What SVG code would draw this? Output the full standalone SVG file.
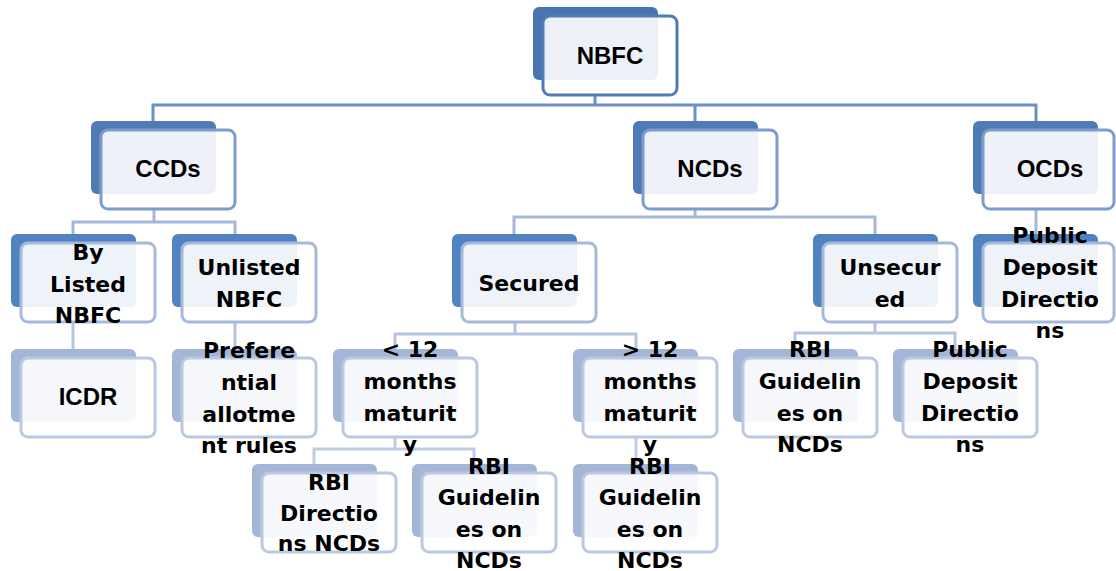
<svg xmlns="http://www.w3.org/2000/svg" width="1116" height="571" viewBox="0 0 1116 571">
<style>
.bk{stroke:none}
.fr{fill:#ffffff;fill-opacity:0.9;stroke-width:3}
.b0{fill:#4a74ae}.f0{stroke:#4f7cb6}
.b1{fill:#4f7bb5}.f1{stroke:#7c9ccc}
.b2{fill:#5283c1}.f2{stroke:#a5b9da}
.b3{fill:#a3b6d7}.f3{stroke:#bac8e2}
.t1{font-family:"Liberation Sans",Arial,sans-serif;font-weight:bold;font-size:24px;fill:#000;text-anchor:middle}
.t2{font-family:"DejaVu Sans",sans-serif;font-weight:bold;font-size:22px;fill:#000;text-anchor:middle}
.c{fill:none;stroke-width:3}
.c1{stroke:#6b8fc7}.c2{stroke:#a3b7da}.c3{stroke:#b5c4e0}.c4{stroke:#c0cce4}
</style>
<g id="connectors">
<path class="c c1" d="M595 95V105M153 121V105H1036V121M695 105V121"/>
<path class="c c2" d="M154 210V222M73 234V222H235V234"/>
<path class="c c2" d="M695 210V217M514 234V217H875V234"/>
<path class="c c2" d="M1036 210V234"/>
<path class="c c3" d="M73 322V349M235 322V349"/>
<path class="c c3" d="M515 323V334M395 349V334H636V349"/>
<path class="c c3" d="M875 323V333M795 349V333H955V349"/>
<path class="c c4" d="M395 438V449M314 464V449H474V464"/>
<path class="c c4" d="M636 438V464"/>
</g>
<g id="n-nbfc"><rect class="bk b0" x="533" y="7" width="125" height="73" rx="6"/><rect class="fr f0" x="543" y="16" width="134" height="79" rx="7"/><text class="t1" x="610" y="64">NBFC</text></g>
<g id="n-ccds"><rect class="bk b1" x="91" y="121" width="125" height="73" rx="6"/><rect class="fr f1" x="101" y="130" width="134" height="79" rx="7"/><text class="t1" x="168" y="177">CCDs</text></g>
<g id="n-ncds"><rect class="bk b1" x="633" y="121" width="125" height="73" rx="6"/><rect class="fr f1" x="643" y="130" width="134" height="79" rx="7"/><text class="t1" x="710" y="177">NCDs</text></g>
<g id="n-ocds"><rect class="bk b1" x="973" y="121" width="125" height="73" rx="6"/><rect class="fr f1" x="983" y="130" width="131" height="79" rx="7"/><text class="t1" x="1050" y="177">OCDs</text></g>
<g id="n-bylisted"><rect class="bk b2" x="11" y="234" width="125" height="73" rx="6"/><rect class="fr f2" x="21" y="243" width="134" height="79" rx="7"/><text class="t2" x="88" y="260">By</text><text class="t2" x="88" y="292">Listed</text><text class="t2" x="88" y="323">NBFC</text></g>
<g id="n-unlisted"><rect class="bk b2" x="172" y="234" width="125" height="73" rx="6"/><rect class="fr f2" x="182" y="243" width="134" height="79" rx="7"/><text class="t2" x="249" y="275">Unlisted</text><text class="t2" x="249" y="307">NBFC</text></g>
<g id="n-secured"><rect class="bk b2" x="452" y="234" width="125" height="73" rx="6"/><rect class="fr f2" x="462" y="243" width="134" height="79" rx="7"/><text class="t2" x="529" y="291">Secured</text></g>
<g id="n-unsecured"><rect class="bk b2" x="813" y="234" width="125" height="73" rx="6"/><rect class="fr f2" x="823" y="243" width="134" height="79" rx="7"/><text class="t2" x="890" y="275">Unsecur</text><text class="t2" x="890" y="307">ed</text></g>
<g id="n-pdd1"><rect class="bk b2" x="973" y="234" width="125" height="73" rx="6"/><rect class="fr f2" x="983" y="243" width="131" height="79" rx="7"/><text class="t2" x="1050" y="243">Public</text><text class="t2" x="1050" y="275">Deposit</text><text class="t2" x="1050" y="307">Directio</text><text class="t2" x="1050" y="338">ns</text></g>
<g id="n-icdr"><rect class="bk b3" x="11" y="349" width="125" height="73" rx="6"/><rect class="fr f3" x="21" y="358" width="134" height="79" rx="7"/><text class="t1" x="88" y="405">ICDR</text></g>
<g id="n-pref"><rect class="bk b3" x="172" y="349" width="125" height="73" rx="6"/><rect class="fr f3" x="182" y="358" width="134" height="79" rx="7"/><text class="t2" x="249" y="358">Prefere</text><text class="t2" x="249" y="390">ntial</text><text class="t2" x="249" y="422">allotme</text><text class="t2" x="249" y="453">nt rules</text></g>
<g id="n-lt12"><rect class="bk b3" x="333" y="349" width="125" height="73" rx="6"/><rect class="fr f3" x="343" y="358" width="134" height="79" rx="7"/><text class="t2" x="410" y="357">&lt; 12</text><text class="t2" x="410" y="389">months</text><text class="t2" x="410" y="421">maturit</text><text class="t2" x="410" y="452">y</text></g>
<g id="n-gt12"><rect class="bk b3" x="573" y="349" width="125" height="73" rx="6"/><rect class="fr f3" x="583" y="358" width="134" height="79" rx="7"/><text class="t2" x="650" y="357">&gt; 12</text><text class="t2" x="650" y="389">months</text><text class="t2" x="650" y="421">maturit</text><text class="t2" x="650" y="452">y</text></g>
<g id="n-rbig1"><rect class="bk b3" x="733" y="349" width="125" height="73" rx="6"/><rect class="fr f3" x="743" y="358" width="134" height="79" rx="7"/><text class="t2" x="810" y="357">RBI</text><text class="t2" x="810" y="389">Guidelin</text><text class="t2" x="810" y="421">es on</text><text class="t2" x="810" y="452">NCDs</text></g>
<g id="n-pdd2"><rect class="bk b3" x="893" y="349" width="125" height="73" rx="6"/><rect class="fr f3" x="903" y="358" width="134" height="79" rx="7"/><text class="t2" x="970" y="357">Public</text><text class="t2" x="970" y="389">Deposit</text><text class="t2" x="970" y="421">Directio</text><text class="t2" x="970" y="452">ns</text></g>
<g id="n-rbid"><rect class="bk b3" x="252" y="464" width="125" height="73" rx="6"/><rect class="fr f3" x="262" y="473" width="134" height="79" rx="7"/><text class="t2" x="329" y="490">RBI</text><text class="t2" x="329" y="521">Directio</text><text class="t2" x="329" y="551">ns NCDs</text></g>
<g id="n-rbig2"><rect class="bk b3" x="412" y="464" width="125" height="73" rx="6"/><rect class="fr f3" x="422" y="473" width="134" height="79" rx="7"/><text class="t2" x="489" y="474">RBI</text><text class="t2" x="489" y="505">Guidelin</text><text class="t2" x="489" y="537">es on</text><text class="t2" x="489" y="568">NCDs</text></g>
<g id="n-rbig3"><rect class="bk b3" x="573" y="464" width="125" height="73" rx="6"/><rect class="fr f3" x="583" y="473" width="134" height="79" rx="7"/><text class="t2" x="650" y="474">RBI</text><text class="t2" x="650" y="505">Guidelin</text><text class="t2" x="650" y="537">es on</text><text class="t2" x="650" y="568">NCDs</text></g>
</svg>
